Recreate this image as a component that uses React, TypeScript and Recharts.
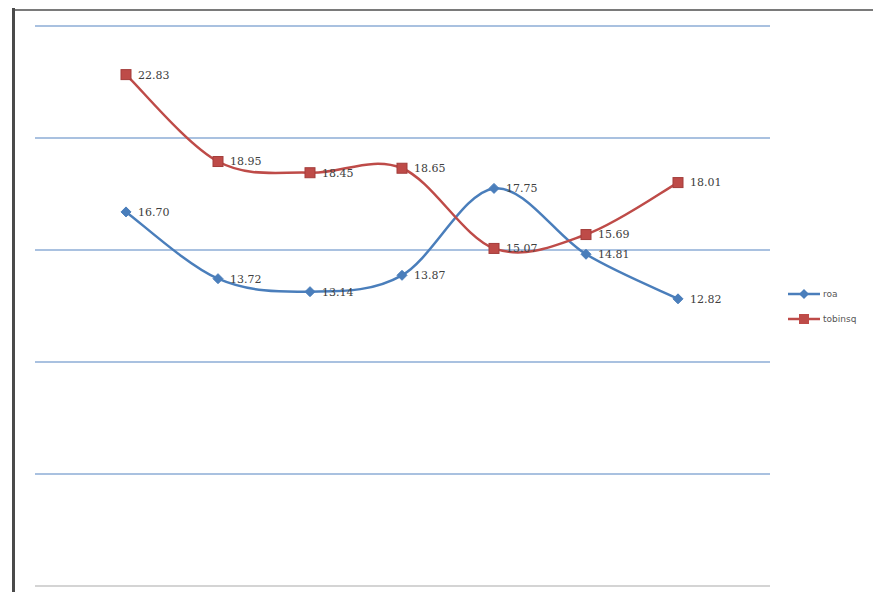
import React from 'react';
import { LineChart, Line, XAxis, YAxis, CartesianGrid, LabelList, ReferenceLine } from 'recharts';

const categories = ['1', '2', '3', '4', '5', '6', '7'];
const roa = [16.70, 13.72, 13.14, 13.87, 17.75, 14.81, 12.82];
const tobinsq = [22.83, 18.95, 18.45, 18.65, 15.07, 15.69, 18.01];
const yTicks = [0, 5, 10, 15, 20, 25];

const data = categories.map((c, i) => ({ cat: c, roa: roa[i], tobinsq: tobinsq[i] }));

const BLUE = '#4a7ebb';
const RED = '#be4b48';

// Catmull-Rom style smoothing (similar to Excel smoothed lines)
const smoothCurve: any = (context: any) => {
  let pts: number[][] = [];
  return {
    areaStart() {},
    areaEnd() {},
    lineStart() { pts = []; },
    point(x: number, y: number) { pts.push([+x, +y]); },
    lineEnd() {
      const n = pts.length;
      if (!n) return;
      context.moveTo(pts[0][0], pts[0][1]);
      for (let i = 0; i < n - 1; i++) {
        const p0 = pts[Math.max(0, i - 1)];
        const p1 = pts[i];
        const p2 = pts[i + 1];
        const p3 = pts[Math.min(n - 1, i + 2)];
        const c1x = p1[0] + (p2[0] - p0[0]) / 6;
        const c1y = p1[1] + (p2[1] - p0[1]) / 6;
        const c2x = p2[0] - (p3[0] - p1[0]) / 6;
        const c2y = p2[1] - (p3[1] - p1[1]) / 6;
        context.bezierCurveTo(c1x, c1y, c2x, c2y, p2[0], p2[1]);
      }
    },
  };
};

const Diamond = (props: any) => {
  const { cx, cy } = props;
  if (cx == null || cy == null) return null;
  const r = 5;
  return <polygon points={`${cx},${cy - r} ${cx + r},${cy} ${cx},${cy + r} ${cx - r},${cy}`} fill={BLUE} stroke={BLUE} />;
};

const Square = (props: any) => {
  const { cx, cy } = props;
  if (cx == null || cy == null) return null;
  const s = 10;
  return <rect x={cx - s / 2} y={cy - s / 2} width={s} height={s} fill={RED} stroke="#a33d3a" strokeWidth={1} />;
};

const fmt = (v: any) => Number(v).toFixed(2);

const LegendBox = () => (
  <div style={{ position: 'absolute', left: 788, top: 281, fontFamily: 'DejaVu Sans, sans-serif', fontSize: 9, color: '#555' }}>
    <div style={{ display: 'flex', alignItems: 'center', height: 25 }}>
      <svg width={34} height={12}>
        <line x1={0} y1={6} x2={32} y2={6} stroke={BLUE} strokeWidth={2.5} />
        <polygon points="16,1 21,6 16,11 11,6" fill={BLUE} />
      </svg>
      <span style={{ marginLeft: 1 }}>roa</span>
    </div>
    <div style={{ display: 'flex', alignItems: 'center', height: 25 }}>
      <svg width={34} height={12}>
        <line x1={0} y1={6} x2={32} y2={6} stroke={RED} strokeWidth={2.5} />
        <rect x={11} y={1} width={10} height={10} fill={RED} />
      </svg>
      <span style={{ marginLeft: 1 }}>tobinsq</span>
    </div>
  </div>
);

export default function App() {
  return (
    <div style={{ position: 'relative', width: 881, height: 600, margin: -8, background: '#fff', overflow: 'hidden' }}>
      <div style={{ position: 'absolute', left: 14, top: 9, width: 867, height: 2, background: '#7a7a7a' }} />
      <div style={{ position: 'absolute', left: 12, top: 8, width: 3, height: 592, background: '#4a4a4a' }} />
      <div style={{ position: 'absolute', left: 0, top: 0 }}>
        <LineChart width={881} height={600} data={data} margin={{ top: 26, right: 111, bottom: 14, left: 35 }}>
          <CartesianGrid vertical={false} stroke="#a9c1e0" strokeWidth={2} />
          <XAxis dataKey="cat" height={0} tick={false} tickLine={false} axisLine={false} padding={{ left: 91, right: 92 }} />
          <YAxis hide domain={[0, 25]} ticks={yTicks} />
          <ReferenceLine y={0} stroke="#d4d4d4" strokeWidth={2} />
          <Line dataKey="roa" name="roa" type={smoothCurve} stroke={BLUE} strokeWidth={2.5} dot={<Diamond />} activeDot={false} isAnimationActive={false}>
            <LabelList dataKey="roa" position="right" offset={12} formatter={fmt} fill="#404040" fontSize={11} fontFamily="DejaVu Serif, serif" />
          </Line>
          <Line dataKey="tobinsq" name="tobinsq" type={smoothCurve} stroke={RED} strokeWidth={2.5} dot={<Square />} activeDot={false} isAnimationActive={false}>
            <LabelList dataKey="tobinsq" position="right" offset={12} formatter={fmt} fill="#404040" fontSize={11} fontFamily="DejaVu Serif, serif" />
          </Line>
        </LineChart>
      </div>
      <LegendBox />
    </div>
  );
}
